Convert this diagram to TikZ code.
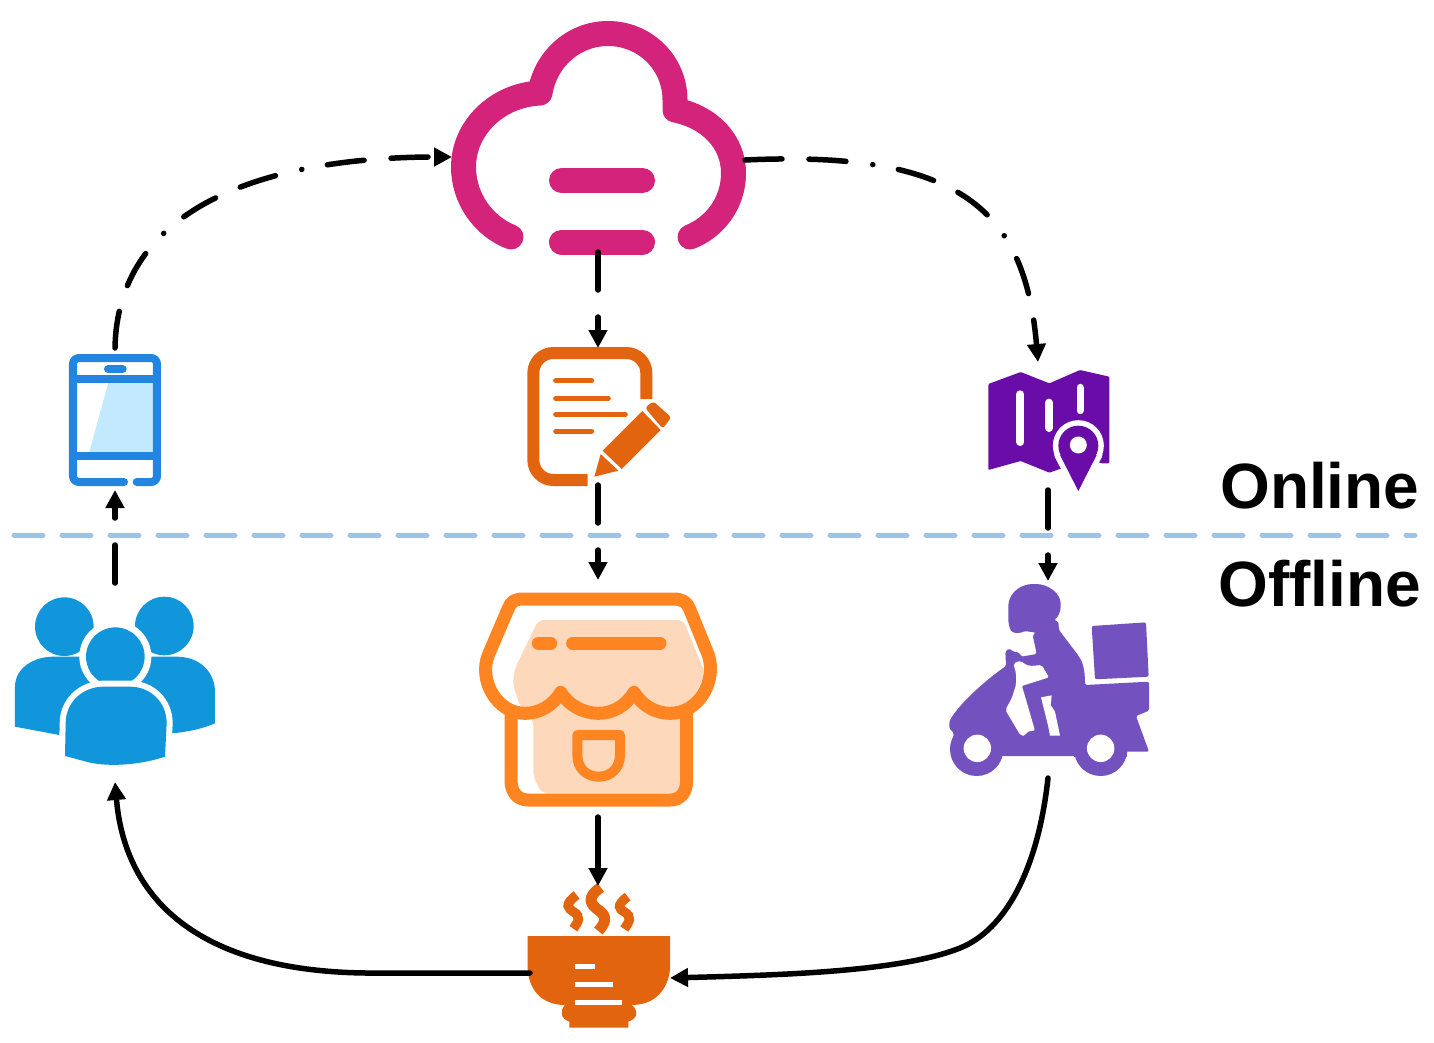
\documentclass[tikz,border=0pt]{standalone}
\usepackage{fontspec}
\setmainfont{Liberation Sans}
\usetikzlibrary{arrows.meta}
\definecolor{cloudc}{HTML}{D4237A}
\definecolor{docc}{HTML}{E3640F}
\definecolor{storec}{HTML}{FF8522}
\definecolor{storel}{HTML}{FDD8BB}
\definecolor{mapc}{HTML}{6A0DA8}
\definecolor{ridec}{HTML}{7352BF}
\definecolor{phonec}{HTML}{2285E0}
\definecolor{phonel}{HTML}{C3E9FF}
\definecolor{peoplec}{HTML}{1296DB}
\definecolor{divc}{HTML}{9DC3E6}
\tikzset{
  zm/.style={x=.33333pt,y=-.33333pt},
  conn/.style={line width=5.5pt,line cap=round,black,-{Triangle[length=18pt,width=18pt]}},
  shortdash/.style={conn,dash pattern=on 38pt off 27pt},
  longdash/.style={conn,dash pattern=on 37pt off 27pt on 37pt off 27pt on 0.1pt off 26pt},
  lab/.style={anchor=base west,inner sep=0pt,font=\fontsize{64pt}{64pt}\selectfont\bfseries},
}
\begin{document}
\begin{tikzpicture}[x=1pt,y=-1pt]
\useasboundingbox (0,0) rectangle (1434,1042);
\fill[white] (0,0) rectangle (1434,1042);
% divider
\coordinate (divL) at (14,535);
\coordinate (divR) at (1415,535);
\draw[divc,line width=5pt,line cap=round,dash pattern=on 29pt off 19pt] (divL) -- (divR);
% cloud
\begin{scope}[cloudc,line width=25pt,line cap=round,line join=round]
\draw (511,237) .. controls (483,226) and (463.5,198) .. (463.5,167)
  .. controls (463.5,128) and (497,95) .. (540,93)
  .. controls (545,60) and (573,33.5) .. (608,33.5)
  .. controls (645,33.5) and (675,63) .. (675,100) -- (675,110)
  .. controls (710,117) and (733.5,142) .. (733.5,173)
  .. controls (733.5,203) and (715,227) .. (690,237);
\draw (561.5,180.5) -- (642.5,180.5);
\draw (561.5,242) -- (642.5,242);
\end{scope}
% document
\begin{scope}[shift={(510,330)},zm]
\draw[docc,line width=12pt,rounded corners=20pt] (409,207) -- (409,69) -- (70,69) -- (70,450) -- (233,450);
\foreach \xe/\ye in {245/152,295/205,346/253,245/303}
  \draw[docc,line width=5pt,line cap=round] (137,\ye) -- (\xe,\ye);
\fill[docc,rounded corners=3pt] (405,233) -- (430,214) -- (484,262) -- (458,296) -- cycle;
\fill[docc] (397,243) -- (452,300) -- (335,417) -- (278,362) -- cycle;
\fill[docc] (272,372) -- (325,422) -- (253,440) -- cycle;
\end{scope}
% map
\begin{scope}[shift={(970,350)},zm]
\fill[mapc,rounded corners=1pt] (55,102) -- (152,66) -- (238,100) -- (330,60) -- (418,80) -- (418,340) -- (395,340) -- (330,320) -- (275,355) -- (238,368) -- (152,333) -- (55,360) -- cycle;
\draw[white,line width=8pt,line cap=round] (151,133) -- (151,276);
\draw[white,line width=8pt,line cap=round] (237,158) -- (237,234);
\draw[white,line width=7pt,line cap=round] (330,112) -- (330,182);
\fill[white] (325,287) circle[radius=25.5pt];
\draw[white,line width=10pt,line join=round,fill=white] (325,423) -- (268,315) -- (382,315) -- cycle;
\fill[mapc] (325,287) circle[radius=20pt];
\fill[mapc] (325,423) -- (270,315) -- (380,315) -- cycle;
\fill[white] (325,285) circle[radius=8.5pt];
\end{scope}
% rider
\begin{scope}[shift={(930,570)},zm]
\fill[ridec,rounded corners=1.5pt] (228,288) -- (226,245) -- (238,235) -- (250,245) -- (268,248) -- (274,260) -- (320,252) -- (308,195) -- (318,188) -- (285,183)
  .. controls (270,190) and (250,192) .. (240,178) -- (235,155) -- (235,105)
  .. controls (240,65) and (275,42) .. (313,42)
  .. controls (355,42) and (392,70) .. (392,105)
  .. controls (392,125) and (385,140) .. (372,150)
  -- (385,155) -- (387,180) -- (440,250)
  .. controls (455,270) and (465,290) .. (465,345)
  -- (657,335) -- (657,422) -- (618,438) -- (657,545) -- (592,545) -- (433,558) -- (218,558) -- (60,535) -- (72,490) -- (58,475) -- (58,455)
  .. controls (80,410) and (160,335) .. (228,288) -- cycle;
\fill[ridec] (140,538) circle[radius=26.67pt];
\fill[ridec] (512,538) circle[radius=26.67pt];
\fill[ridec] (433,545) -- (592,545) -- (592,560) -- (433,560) -- cycle;
\fill[white,rounded corners=2pt] (250,280) -- (258,310) -- (258,345) -- (245,385) -- (226,420) -- (272,497) -- (287,497) -- (290,485) -- (315,482) -- (278,355) -- (275,348) -- (357,322) -- (335,285) -- (300,288) -- (285,283) -- (272,272) -- cycle;
\fill[white] (333,382) -- (365,376) -- (362,405) -- (375,425) -- (390,497) -- (360,497) -- (355,470) -- cycle;
\fill[ridec,rounded corners=2pt] (485,168) -- (648,157) -- (656,320) -- (495,328) -- cycle;
\fill[white] (142,535) circle[radius=13.7pt];
\fill[white] (512,535) circle[radius=13.7pt];
\end{scope}
% store
\begin{scope}[shift={(470,580)},zm]
\fill[storel,rounded corners=6pt] (205,120) -- (640,120) -- (705,280) -- (650,400) -- (650,640) -- (215,640) -- (190,590) -- (190,420) -- (150,380) -- (128,310) -- (135,265) -- cycle;
\begin{scope}[storec,line width=13pt,line join=round,line cap=round]
\draw (160,57) -- (610,57) .. controls (635,57) and (650,65) .. (658,85) -- (715,225)
  .. controls (740,300) and (690,400) .. (600,400)
  .. controls (555,400) and (515,375) .. (492,337)
  .. controls (470,375) and (430,400) .. (385,400)
  .. controls (340,400) and (295,375) .. (272,337)
  .. controls (250,375) and (210,400) .. (165,400)
  .. controls (80,400) and (25,300) .. (55,225)
  -- (115,85) .. controls (122,65) and (135,57) .. (160,57) -- cycle;
\draw[line cap=butt] (123,400) -- (123,600) .. controls (123,640) and (145,660) .. (175,660) -- (600,660) .. controls (630,660) and (650,640) .. (650,600) -- (650,400);
\draw (205,190) -- (242,190);
\draw (308,190) -- (570,190);
\draw[line width=10pt] (322,465) -- (450,465) -- (450,525) .. controls (450,565) and (422,590) .. (386,590) .. controls (350,590) and (322,565) .. (322,525) -- cycle;
\end{scope}
\end{scope}
% bowl
\begin{scope}[shift={(510,870)},zm]
\fill[docc] (53,198) -- (480,198) -- (480,300) .. controls (470,375) and (420,405) .. (365,405) .. controls (385,420) and (385,445) .. (355,455) -- (355,473) -- (178,473) -- (178,455) .. controls (150,445) and (150,420) .. (165,405) .. controls (110,405) and (60,375) .. (53,300) -- cycle;
\fill[white] (195,282) rectangle (255,298);
\fill[white] (195,336) rectangle (309,352);
\fill[white] (195,390) rectangle (336,406);
\draw[docc,line width=11pt] (272,52) .. controls (225,85) and (245,105) .. (265,120) .. controls (295,140) and (285,160) .. (265,183);
\draw[docc,line width=9.5pt] (200,75) .. controls (160,105) and (175,115) .. (190,125) .. controls (215,140) and (205,155) .. (190,176);
\draw[docc,line width=9.5pt] (353,80) .. controls (315,108) and (330,118) .. (342,125) .. controls (368,140) and (358,155) .. (343,177);
\end{scope}
% phone
\begin{scope}[shift={(0,340)},zm]
\fill[phonel] (325,128) -- (462,128) -- (462,336) -- (268,336) -- cycle;
\begin{scope}[phonec,line width=8pt,line cap=round]
\draw[rounded corners=6pt] (372,426) -- (219,426) -- (219,54) -- (471,54) -- (471,426) -- (410,426);
\draw[line cap=butt] (219,117) -- (471,117);
\draw[line cap=butt] (219,347) -- (471,347);
\draw (324,87) -- (368,87);
\end{scope}
\end{scope}
% people
\begin{scope}[shift={(0,340)},zm]
\fill[peoplec] (193,860) circle[radius=29.3pt];
\fill[peoplec] (493,858) circle[radius=29.3pt];
\fill[peoplec] (45,1160) -- (45,1040) .. controls (45,985) and (100,950) .. (160,950) -- (300,950) -- (300,1185) -- (178,1185) -- cycle;
\fill[peoplec] (645,1150) -- (645,1050) .. controls (640,985) and (590,950) .. (530,950) -- (400,950) -- (400,1180) -- (515,1180) .. controls (570,1175) and (610,1165) .. (645,1150) -- cycle;
\fill[white] (346,950) circle[radius=36pt];
\fill[peoplec] (346,950) circle[radius=29.3pt];
\draw[white,line width=12pt,fill=peoplec,line join=round] (195,1248) -- (197,1150) .. controls (197,1085) and (250,1040) .. (310,1040) -- (390,1040) .. controls (450,1040) and (500,1085) .. (500,1150) -- (495,1250) .. controls (430,1272) and (340,1282) .. (270,1268) -- cycle;
\fill[peoplec] (195,1248) -- (197,1150) .. controls (197,1085) and (250,1040) .. (310,1040) -- (390,1040) .. controls (450,1040) and (500,1085) .. (500,1150) -- (495,1250) .. controls (430,1272) and (340,1282) .. (270,1268) -- cycle;
\end{scope}
% connector ends
\coordinate (phoneTop) at (115,348);
\coordinate (phoneBot) at (115,490);
\coordinate (peopleTop) at (115,583);
\coordinate (peopleBot) at (115,782);
\coordinate (cloudW) at (452,157);
\coordinate (cloudE) at (745,160);
\coordinate (cloudS) at (598,252);
\coordinate (docN) at (598,348);
\coordinate (docS) at (598,485);
\coordinate (storeN) at (598,580);
\coordinate (storeS) at (598,817);
\coordinate (bowlN) at (598,886);
\coordinate (bowlW) at (530,973);
\coordinate (bowlE) at (670,978);
\coordinate (mapN) at (1038,362);
\coordinate (mapS) at (1048,490);
\coordinate (riderN) at (1048,581);
\coordinate (riderS) at (1048,778);
% connectors
\draw[shortdash] (peopleTop) -- (phoneBot);
\draw[longdash] (phoneTop) .. controls (118,190) and (300,157) .. (cloudW);
\draw[longdash] (cloudE) .. controls (960,150) and (1025,210) .. (mapN);
\draw[shortdash] (cloudS) -- (docN);
\draw[shortdash] (docS) -- (storeN);
\draw[shortdash] (mapS) -- (riderN);
\draw[conn] (storeS) -- (bowlN);
\draw[conn] (riderS) .. controls (1038,870) and (1005,930) .. (960,948) .. controls (900,972) and (780,975) .. (bowlE);
\draw[conn] (bowlW) -- (380,973) .. controls (200,975) and (125,900) .. (peopleBot);
% labels
\node[lab] (online) at (1220,508) {Online};
\node[lab] (offline) at (1218,606) {Offline};
\end{tikzpicture}
\end{document}
